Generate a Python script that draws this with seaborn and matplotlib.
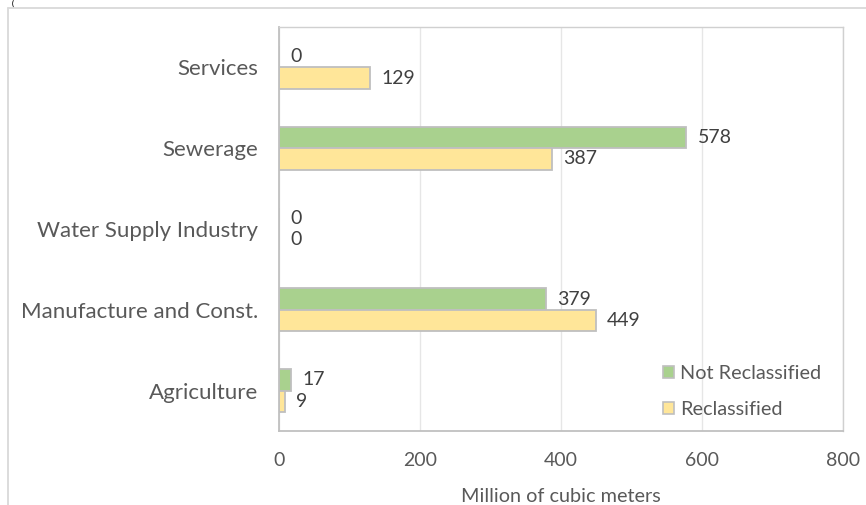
import matplotlib
matplotlib.use("Agg")
import matplotlib.pyplot as plt
from matplotlib.lines import Line2D
from matplotlib.patches import Patch
import seaborn as sns
import pandas as pd

categories = ["Services", "Sewerage", "Water Supply Industry",
              "Manufacture and Const.", "Agriculture"]
not_reclassified = [0, 578, 0, 379, 17]
reclassified = [129, 387, 0, 449, 9]
series_names = ["Not Reclassified", "Reclassified"]
x_ticks = [0, 200, 400, 600, 800]
x_label = "Million of cubic meters"

colors = {"Not Reclassified": "#A9D18E", "Reclassified": "#FFE699"}

df = pd.DataFrame({
    "category": categories * 2,
    "value": not_reclassified + reclassified,
    "series": [series_names[0]] * len(categories) + [series_names[1]] * len(categories),
})

sns.set_theme(style="white")
plt.rcParams["font.family"] = ["Lato", "DejaVu Sans"]

fig = plt.figure(figsize=(8.66, 5.05), dpi=100)
ax = fig.add_axes([279 / 866, 1 - 431 / 505, (843 - 279) / 866, (431 - 27) / 505])

sns.barplot(data=df, y="category", x="value", hue="series", order=categories,
            hue_order=series_names, palette=colors, orient="h", width=0.53,
            saturation=1, edgecolor="#BFBFBF", linewidth=1.3, ax=ax, legend=False,
            errorbar=None)

for cont in ax.containers:
    ax.bar_label(cont, labels=[f"{v:.0f}" for v in cont.datavalues], padding=8,
                 fontsize=14, color="#404040")

ax.set_xlim(0, 800)
ax.set_xticks(x_ticks)
ax.set_xticklabels([str(t) for t in x_ticks])
ax.set_xlabel(x_label, fontsize=14.3, color="#595959", labelpad=14)
ax.set_ylabel("")
ax.tick_params(axis="y", length=0, pad=15, labelsize=16, labelcolor="#595959")
ax.tick_params(axis="x", length=0, pad=15, labelsize=14, labelcolor="#595959")
ax.xaxis.grid(True, color="#E6E6E6", linewidth=1)
ax.set_axisbelow(True)
for side in ["left", "bottom"]:
    ax.spines[side].set_color("#C0C0C0")
    ax.spines[side].set_linewidth(1.3)
for side in ["top", "right"]:
    ax.spines[side].set_color("#D0D0D0")
    ax.spines[side].set_linewidth(1.0)

handles = [Patch(facecolor=colors[s], edgecolor="#BFBFBF", linewidth=1.2) for s in series_names]
ax.legend(handles, series_names, loc="upper left", bbox_to_anchor=(0.68, 0.163),
          frameon=False, fontsize=14.3, labelcolor="#595959", handlelength=0.6,
          handleheight=0.6, handletextpad=0.3, labelspacing=0.95, borderpad=0,
          borderaxespad=0)

# outer chart frame (partially visible)
fig.add_artist(Line2D([8 / 866, 1.0], [1 - 8 / 505, 1 - 8 / 505], color="#D9D9D9", linewidth=1.3))
fig.add_artist(Line2D([8 / 866, 8 / 866], [0, 1 - 8 / 505], color="#D9D9D9", linewidth=1.3))
fig.text(12 / 866, 1.0, "(", fontsize=5, fontweight="bold", color="black",
         va="top", ha="left")

fig.savefig("out.png", dpi=100)
